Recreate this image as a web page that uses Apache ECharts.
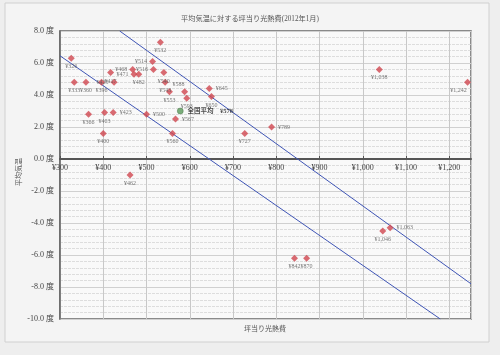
<!DOCTYPE html>
<html><head><meta charset="utf-8">
<script src="https://cdn.jsdelivr.net/npm/echarts@6/dist/echarts.min.js"></script>
<style>html,body{margin:0;padding:0;background:#eeeeee;}#c{width:500px;height:355px;}</style>
</head><body><div id="c"></div>
<script>
// ---- data ----
const costs = [326, 333, 360, 366, 396, 400, 403, 417, 423, 425, 462, 468, 471, 482, 500, 514, 516, 532, 540, 543, 553, 560, 567, 588, 593, 645, 650, 727, 789, 842, 870, 1038, 1046, 1063, 1242];
const temps = [6.3, 4.8, 4.8, 2.8, 4.8, 1.6, 2.9, 5.4, 2.9, 4.8, -1.0, 5.6, 5.3, 5.3, 2.8, 6.1, 5.6, 7.3, 5.4, 4.8, 4.2, 1.6, 2.5, 4.2, 3.8, 4.4, 3.9, 1.6, 2.0, -6.2, -6.2, 5.6, -4.5, -4.3, 4.8];
const nationalCost = [578];
const nationalTemp = [3.0];
const nationalName = '全国平均';
const upperLine = [[438, 8.0], [1250, -7.8]];
const lowerLine = [[300, 6.45], [1179, -10.0]];
const title = '平均気温に対する坪当り光熱費(2012年1月)';
const xName = '坪当り光熱費';
const yName = '平均気温';

// ---- label placement (style) ----
const placeRight = new Set([423, 500, 567, 645, 789, 1063]);
const placeLeft = new Set([425, 468, 471, 514, 516]);
const placeTopLeft = new Set([588]);
const placeBottomLeft = new Set([1242]);

const yen = v => '¥' + v.toLocaleString('en-US');
const serif = "'Liberation Serif','DejaVu Serif','Noto Sans CJK JP',serif";

const pts = costs.map((c, i) => {
  let lab = { position: 'bottom', distance: 2 };
  if (placeRight.has(c)) lab = { position: 'right', distance: 3 };
  else if (placeLeft.has(c)) lab = { position: 'left', distance: 2 };
  else if (placeTopLeft.has(c)) lab = { position: 'top', distance: 1, offset: [-6, 0] };
  else if (placeBottomLeft.has(c)) lab = { position: 'bottom', distance: 2, offset: [-9, 0] };
  return { value: [c, temps[i]], label: lab };
});

const gridTop = 31, gridBottom = 36, H = 355;
const yMin = -10, yMax = 8;
const plotH = H - gridTop - gridBottom;
const zeroOffset = -plotH * (0 - yMin) / (yMax - yMin);

const chart = echarts.init(document.getElementById('c'), null, { renderer: 'canvas' });
chart.setOption({
  backgroundColor: '#eeeeee',
  animation: false,
  graphic: [
    { type: 'rect', z: -10, shape: { x: 5, y: 3, width: 484, height: 339 },
      style: { fill: '#f4f4f4', stroke: '#d0d0d0', lineWidth: 1 } },
    { type: 'text', x: 265, y: 329, z: 10,
      style: { text: xName, fontSize: 7, fill: '#555', fontFamily: serif, align: 'center', verticalAlign: 'middle' } },
    { type: 'text', x: 19, y: 172, rotation: Math.PI / 2, z: 10,
      style: { text: yName, fontSize: 7, fill: '#555', fontFamily: serif, align: 'center', verticalAlign: 'middle' } }
  ],
  title: {
    text: title, left: 'center', top: 11,
    textStyle: { fontSize: 7.2, fontWeight: 'normal', color: '#555', fontFamily: serif }
  },
  grid: { left: 60, right: 29, top: gridTop, bottom: gridBottom, show: true, backgroundColor: '#f9f9f9',
    borderColor: '#666', borderWidth: 1.5, containLabel: false, outerBoundsMode: 'none' },
  xAxis: {
    type: 'value', min: 300, max: 1250, interval: 100,
    position: 'bottom', offset: zeroOffset,
    axisLine: { onZero: false, lineStyle: { color: '#555', width: 2 } },
    axisTick: { show: true, inside: true, length: 3, lineStyle: { color: '#555' } },
    axisLabel: { formatter: v => yen(v), fontSize: 8, color: '#444', margin: 5, fontFamily: serif, showMaxLabel: false },
    splitLine: { show: true, lineStyle: { color: '#c8c8c8', width: 1 } }
  },
  yAxis: {
    type: 'value', min: yMin, max: yMax, interval: 2,
    axisLine: { show: true, lineStyle: { color: '#666', width: 1.5 } },
    axisTick: { show: false },
    axisLabel: { formatter: v => v.toFixed(1) + ' 度', fontSize: 8, color: '#444', margin: 6, fontFamily: serif },
    splitLine: { show: true, lineStyle: { color: '#d0d0d0', width: 1 } },
    minorTick: { show: false, splitNumber: 5 },
    minorSplitLine: { show: true, lineStyle: { color: '#d6d6d6', width: 0.8, type: [3, 1] } }
  },
  series: [
    { type: 'line', data: upperLine, symbol: 'none', silent: true,
      lineStyle: { color: '#3f55b5', width: 1 }, z: 3 },
    { type: 'line', data: lowerLine, symbol: 'none', silent: true,
      lineStyle: { color: '#3f55b5', width: 1 }, z: 3 },
    {
      type: 'scatter', data: pts, symbol: 'diamond', symbolSize: 7,
      itemStyle: { color: '#d0464f' }, z: 4,
      label: { show: true, formatter: p => yen(p.value[0]), fontSize: 6, color: '#555', fontFamily: serif }
    },
    {
      type: 'scatter', data: nationalCost.map((c, i) => [c, nationalTemp[i]]), symbol: 'circle', symbolSize: 6,
      itemStyle: { color: '#5a9a5a', borderColor: '#3d6b3d', borderWidth: 0.5 }, z: 5,
      label: { show: true, position: 'right', distance: 4,
        formatter: p => nationalName + '　' + yen(p.value[0]),
        fontSize: 6.5, fontWeight: 'bold', color: '#222', fontFamily: serif }
    }
  ]
});
</script>
</body></html>
